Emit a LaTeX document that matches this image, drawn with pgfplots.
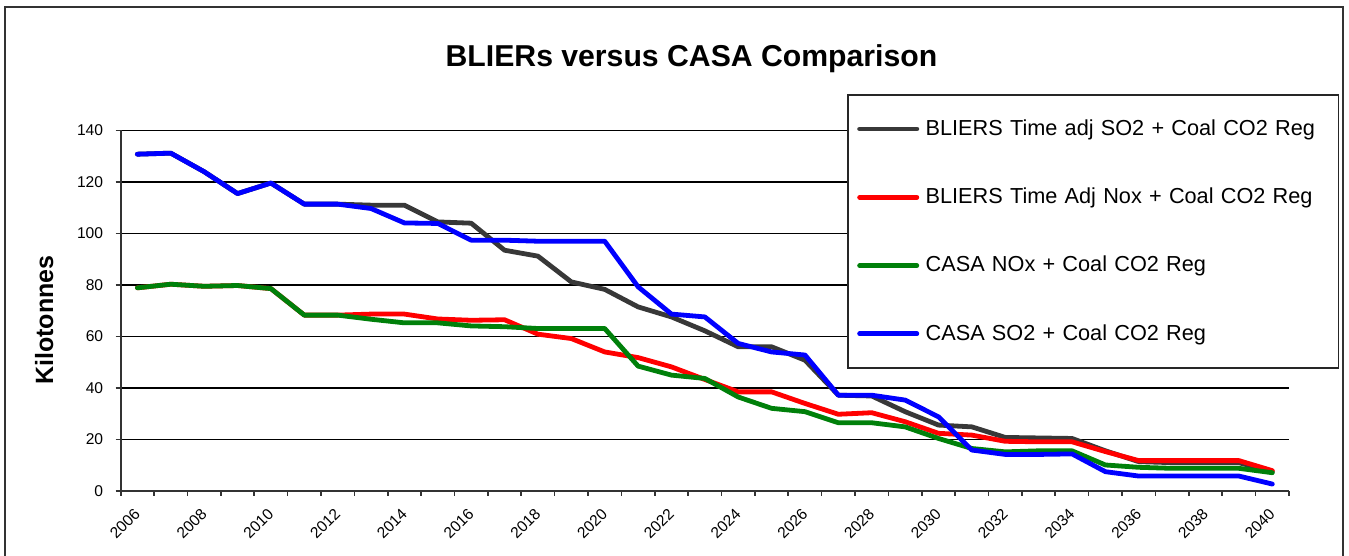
\documentclass[border=0pt]{standalone}
\usepackage{fontspec}
\setmainfont{Liberation Sans}
\usepackage{pgfplots}
\pgfplotsset{compat=1.18}
\definecolor{sgray}{HTML}{383838}
\definecolor{sred}{HTML}{FF0000}
\definecolor{sgreen}{HTML}{00800A}
\definecolor{sblue}{HTML}{0000FF}
\begin{document}
\begin{tikzpicture}
\useasboundingbox (0pt,0pt) rectangle (674.5pt,278pt);
\draw[black!80, line width=1pt] (2.25pt,-5pt) -- (2.25pt,274.5pt) -- (671.5pt,274.5pt) -- (671.5pt,-5pt);
\node[font=\bfseries\fontsize{15.1}{18}\selectfont, anchor=base, inner sep=0pt] at (345.75pt,244.5pt) {BLIERs versus CASA Comparison};
\node[font=\bfseries\fontsize{12.5}{15}\selectfont, rotate=90, anchor=base, inner sep=0pt] at (26.5pt,118pt) {Kilotonnes};
\begin{axis}[
  at={(60.35pt,32.5pt)}, anchor=south west,
  scale only axis, width=584.15pt, height=180.25pt,
  xmin=2005.5, xmax=2040.5, ymin=0, ymax=140,
  axis x line=bottom, axis y line=left,
  axis line style={-, draw=black!80, line width=0.9pt},
  ytick={0,20,...,140},
  ymajorgrids, major grid style={black, line width=0.65pt},
  xtick={2006,2008,...,2040},
  minor xtick={2005.5,2006.5,...,2040.5},
  tick align=outside,
  major tick length=2.5pt, minor tick length=2.5pt,
  tick style={black!80, line width=0.8pt},
  major x tick style={draw=none},
  /pgf/number format/assume math mode=true,
  /pgf/number format/1000 sep={},
  tick label style={font=\fontsize{7.8}{9}\selectfont},
  yticklabel style={inner sep=0pt},
  yticklabel shift=6.1pt,
  xticklabel style={rotate=45, anchor=east, inner sep=0pt},
  xticklabel shift=7.5pt,
  legend cell align=left,
  legend image code/.code={\draw[#1] (1.2pt,0pt) -- (29.8pt,0pt); \path (-3.5pt,0pt) (33pt,0pt);},
  legend style={at={(0.6217,1.1012)}, anchor=north west, draw=black!85, line width=0.8pt, fill=white,
    inner sep=0pt, row sep=0pt, column sep=0pt,
    font=\fontsize{10.85}{13}\selectfont,
    nodes={inner sep=0pt, text width=206.5pt, minimum height=34.15pt, align=left}},
  every axis plot/.append style={line width=2.4pt, line join=round, line cap=round, no markers},
]
\addplot[color=sgray] table {
x y
2006 130.8
2007 131.2
2008 124
2009 115.5
2010 119.6
2011 111.4
2012 111.4
2013 111
2014 111
2015 104.5
2016 104
2017 93.5
2018 91.2
2019 81.2
2020 78.3
2021 71.5
2022 67.6
2023 62.2
2024 56
2025 56
2026 50.8
2027 37.2
2028 36.9
2029 30.8
2030 25.6
2031 24.9
2032 20.8
2033 20.6
2034 20.4
2035 15.6
2036 11.4
2037 11
2038 11
2039 11
2040 7.5
};
\addlegendentry{BLIERS Time adj SO2 + Coal CO2 Reg}
\addplot[color=sred] table {
x y
2006 78.9
2007 80.3
2008 79.5
2009 79.8
2010 78.6
2011 68.3
2012 68.3
2013 68.7
2014 68.7
2015 66.8
2016 66.3
2017 66.5
2018 60.9
2019 59.2
2020 54
2021 51.8
2022 48.2
2023 43.3
2024 38.5
2025 38.5
2026 34
2027 29.8
2028 30.4
2029 26.9
2030 22.4
2031 21.7
2032 19.3
2033 19.1
2034 19.1
2035 15.3
2036 11.8
2037 11.8
2038 11.8
2039 11.8
2040 7.9
};
\addlegendentry{BLIERS Time Adj Nox + Coal CO2 Reg}
\addplot[color=sgreen] table {
x y
2006 78.9
2007 80.3
2008 79.5
2009 79.8
2010 78.6
2011 68.3
2012 68.3
2013 66.7
2014 65.3
2015 65.3
2016 64.1
2017 63.8
2018 63.1
2019 63.1
2020 63.1
2021 48.5
2022 45
2023 43.7
2024 36.5
2025 32.1
2026 30.8
2027 26.5
2028 26.5
2029 24.9
2030 20.4
2031 16.5
2032 15.2
2033 15.6
2034 15.6
2035 10.1
2036 9.2
2037 8.8
2038 8.8
2039 8.8
2040 7.1
};
\addlegendentry{CASA NOx + Coal CO2 Reg}
\addplot[color=sblue] table {
x y
2006 130.8
2007 131.2
2008 124
2009 115.5
2010 119.6
2011 111.4
2012 111.4
2013 109.7
2014 104.1
2015 103.9
2016 97.4
2017 97.4
2018 97
2019 97
2020 97
2021 79.3
2022 68.7
2023 67.6
2024 57.3
2025 54
2026 52.8
2027 37.2
2028 37.2
2029 35.3
2030 28.8
2031 15.9
2032 14.2
2033 14.2
2034 14.4
2035 7.5
2036 5.8
2037 5.8
2038 5.8
2039 5.8
2040 2.7
};
\addlegendentry{CASA SO2 + Coal CO2 Reg}
\end{axis}
\end{tikzpicture}
\end{document}
